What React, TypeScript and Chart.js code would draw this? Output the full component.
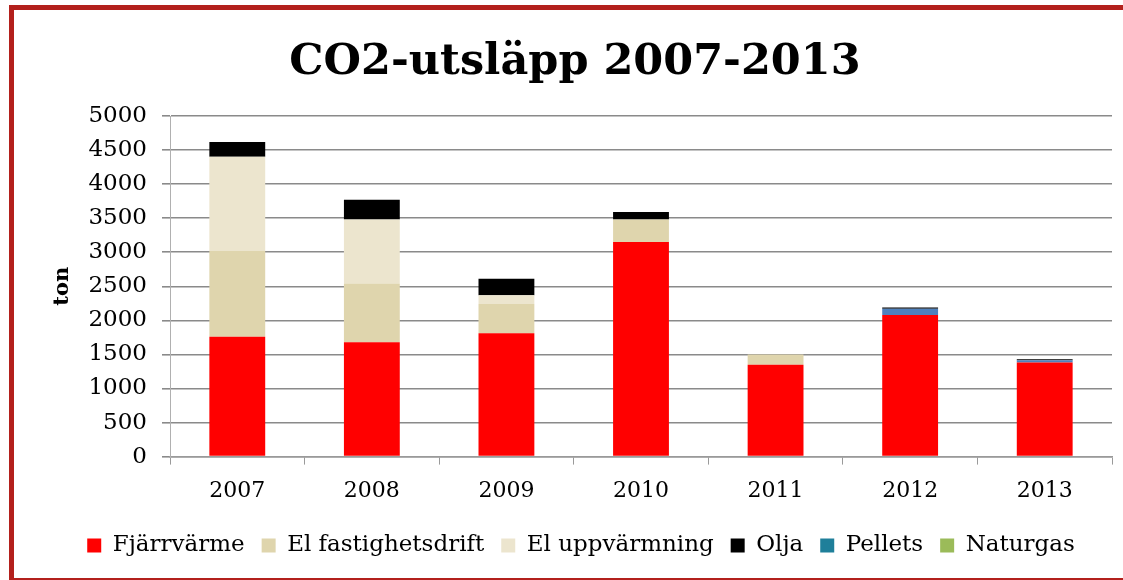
import React, { useEffect, useRef } from "react";
import { Chart, registerables } from "chart.js";

Chart.register(...registerables);

const chartTitle = "CO2-utsläpp 2007-2013";
const categories = ["2007", "2008", "2009", "2010", "2011", "2012", "2013"];
const fjarrvarme = [1760, 1680, 1810, 3150, 1350, 2080, 1380];
const elFastighetsdrift = [1260, 860, 430, 330, 150, 0, 0];
const elUppvarmning = [1380, 940, 130, 0, 0, 0, 0];
const olja = [220, 290, 240, 110, 0, 20, 15];
const pellets = [0, 0, 0, 0, 0, 90, 35];
const naturgas = [0, 0, 0, 0, 0, 0, 0];
const yTicks = [0, 500, 1000, 1500, 2000, 2500, 3000, 3500, 4000, 4500, 5000];

const legendOrder = ["Fjärrvärme", "El fastighetsdrift", "El uppvärmning", "Olja", "Pellets", "Naturgas"];
const FONT = "'DejaVu Serif', Georgia, serif";

export default function App() {
  const ref = useRef<HTMLCanvasElement | null>(null);
  useEffect(() => {
    if (!ref.current) return;
    const chart = new Chart(ref.current, {
      type: "bar",
      data: {
        labels: categories,
        datasets: [
          { label: "Fjärrvärme", data: fjarrvarme, backgroundColor: "#FF0000" },
          { label: "El fastighetsdrift", data: elFastighetsdrift, backgroundColor: "#DFD5AD" },
          { label: "El uppvärmning", data: elUppvarmning, backgroundColor: "#ECE5CE" },
          { label: "Pellets", data: pellets, backgroundColor: "#4F81BD" },
          { label: "Naturgas", data: naturgas, backgroundColor: "#9BBB59" },
          { label: "Olja", data: olja, backgroundColor: "#000000" },
        ].map((d) => ({ ...d, barPercentage: 0.415, categoryPercentage: 1, borderWidth: 0 })),
      },
      options: {
        responsive: false,
        animation: false,
        layout: { padding: { left: 50, right: 11, top: 116, bottom: 13 } },
        scales: {
          x: {
            stacked: true,
            grid: { display: true, drawOnChartArea: false, drawTicks: true, tickLength: 8, color: "#9a9a9a", offset: true },
            border: { display: true, color: "#9a9a9a", width: 1.5 },
            ticks: { color: "#000", font: { family: FONT, size: 22 }, padding: 13 },
          },
          y: {
            stacked: true,
            min: 0,
            max: 5000,
            afterBuildTicks: (s: any) => {
              s.ticks = yTicks.map((v) => ({ value: v }));
            },
            afterFit: (s: any) => {
              s.width = 120;
            },
            grid: { color: "#8a8a8a", lineWidth: 1.6, tickLength: 8, drawTicks: true },
            border: { display: true, color: "#b0b0b0", width: 1 },
            ticks: {
              color: "#000",
              font: { family: FONT, size: 23 },
              padding: 15,
              callback: (v: any) => String(v),
            },
            title: { display: true, text: "ton", color: "#000", font: { family: FONT, size: 21, weight: "bold" }, padding: { top: 0, bottom: 0 } },
          },
        },
        plugins: {
          title: { display: false },
          legend: {
            position: "bottom",
            labels: {
              color: "#000",
              font: { family: FONT, size: 23 },
              boxWidth: 14,
              boxHeight: 14,
              padding: 17,
              sort: (a: any, b: any) => legendOrder.indexOf(a.text) - legendOrder.indexOf(b.text),
              generateLabels: (c: any) => {
                const items = (Chart as any).defaults.plugins.legend.labels.generateLabels(c);
                return items.map((it: any) =>
                  it.text === "Pellets" ? { ...it, fillStyle: "#1F7F9A", strokeStyle: "#1F7F9A", lineWidth: 0 } : { ...it, lineWidth: 0 }
                );
              },
            },
          },
          tooltip: { enabled: false },
        },
      },
    });
    return () => chart.destroy();
  }, []);
  return (
    <div style={{ position: "fixed", left: 0, top: 0, width: 1123, height: 580, background: "#fff", overflow: "hidden" }}>
      <canvas ref={ref} width={1123} height={580} style={{ position: "absolute", left: 0, top: 0 }} />
      <div
        style={{
          position: "absolute",
          left: 275,
          width: 600,
          top: 33,
          height: 52,
          lineHeight: "52px",
          textAlign: "center",
          fontFamily: FONT,
          fontWeight: "bold",
          fontSize: 43,
          color: "#000",
          whiteSpace: "nowrap",
        }}
      >
        {chartTitle}
      </div>
      <div
        style={{
          position: "absolute",
          left: 9,
          top: 5,
          width: 1200,
          height: 568,
          borderLeft: "5px solid #B3201C",
          borderTop: "5px solid #B3201C",
          borderBottom: "2px solid #B3201C",
          pointerEvents: "none",
        }}
      />
    </div>
  );
}
